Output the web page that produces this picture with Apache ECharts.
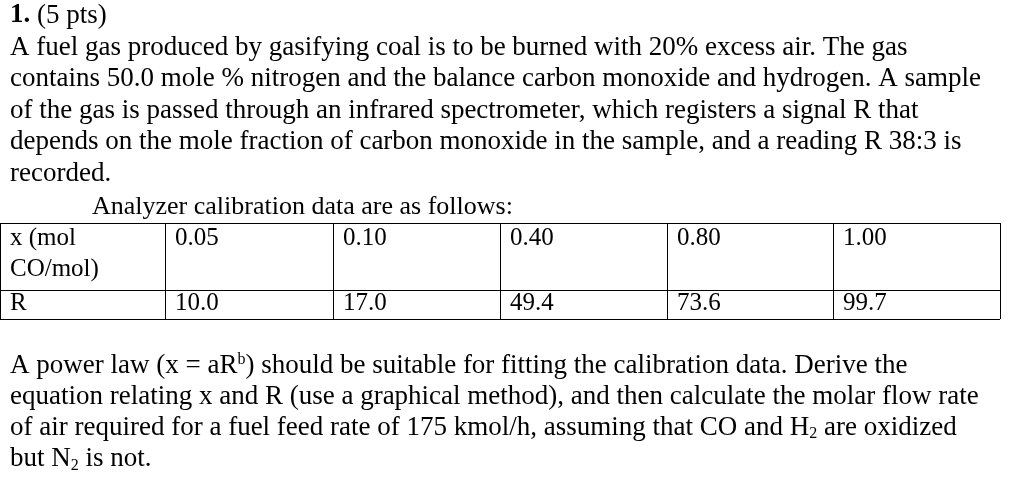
<!DOCTYPE html>
<html><head><meta charset="utf-8">
<script src="https://cdn.jsdelivr.net/npm/echarts@6/dist/echarts.min.js"></script>
<style>html,body{margin:0;padding:0;background:#fff}#c{width:1024px;height:501px}</style>
</head><body><div id="c"></div>
<script>
var xHeader = ['x (mol', 'CO/mol)'];
var xValues = ['0.05', '0.10', '0.40', '0.80', '1.00'];
var rHeader = 'R';
var rValues = ['10.0', '17.0', '49.4', '73.6', '99.7'];
var topLines = [
  'A fuel gas produced by gasifying coal is to be burned with 20% excess air. The gas',
  'contains 50.0 mole % nitrogen and the balance carbon monoxide and hydrogen. A sample',
  'of the gas is passed through an infrared spectrometer, which registers a signal R that',
  'depends on the mole fraction of carbon monoxide in the sample, and a reading R 38:3 is',
  'recorded.'
];
var bottomLines = [
  'A power law (x = aR{sup|b}) should be suitable for fitting the calibration data. Derive the',
  'equation relating x and R (use a graphical method), and then calculate the molar flow rate',
  'of air required for a fuel feed rate of 175 kmol/h, assuming that CO and H{sub|2} are oxidized',
  'but N{sub|2} is not.'
];
var F = 'Liberation Serif';
var rich = {sup:{fontSize:16,verticalAlign:'top',padding:[0,0,12,0],fontFamily:F},sub:{fontSize:16,padding:[12,0,0,0],fontFamily:F}};
function txt(x,y,s,size,extra){
  return {type:'text',left:x,top:y,style:Object.assign({text:s,font:(size||27)+'px "'+F+'"',fill:'#000',rich:rich},extra||{})};
}
var g = [];
g.push(txt(10,2,'{b|1.} (5 pts)',27,{rich:{b:{fontWeight:'bold',fontSize:27,fontFamily:F}}}));
topLines.forEach(function(s,i){g.push(txt(10,34+i*31.5,s));});
g.push(txt(92,194,'Analyzer calibration data are as follows:',26));
var colX=[0,165,333,500,667,833,1000];
var yT=223,yM=290,yB=319;
[yT,yM,yB].forEach(function(y){g.push({type:'line',shape:{x1:0,y1:y+0.5,x2:1000,y2:y+0.5},style:{stroke:'#000',lineWidth:1}});});
colX.forEach(function(x){g.push({type:'line',shape:{x1:x+0.5,y1:yT,x2:x+0.5,y2:yB},style:{stroke:'#000',lineWidth:1}});});
g.push(txt(10,226,xHeader[0],25));
g.push(txt(10,257,xHeader[1],25));
g.push(txt(10,291,rHeader,25));
xValues.forEach(function(v,i){g.push(txt(colX[i+1]+10,226,v,25));});
rValues.forEach(function(v,i){g.push(txt(colX[i+1]+10,291,v,25));});
bottomLines.forEach(function(s,i){g.push(txt(10,352+i*31.3,s));});
var chart=echarts.init(document.getElementById('c'));
chart.setOption({animation:false,backgroundColor:'#fff',graphic:g});
</script></body></html>
